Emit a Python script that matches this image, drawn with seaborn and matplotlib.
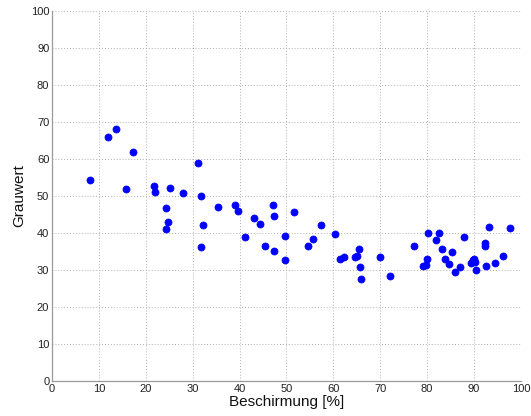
import matplotlib
matplotlib.use("Agg")
import matplotlib.pyplot as plt
import seaborn as sns
import pandas as pd

beschirmung = [8.0, 11.9, 13.6, 17.2, 15.8, 21.8, 21.9, 25.2, 27.9, 24.4, 24.7, 24.2,
               31.1, 31.7, 32.2, 31.8, 35.4, 39.1, 39.7, 41.1, 43.1, 44.4, 45.5, 47.2,
               47.4, 47.4, 49.7, 49.7, 51.6, 54.5, 55.7, 57.3, 60.4, 61.5, 62.3, 64.6,
               65.1, 65.4, 65.6, 65.9, 69.9, 72.1, 77.3, 79.2, 79.8, 79.9, 80.1, 81.9,
               82.6, 83.1, 83.8, 84.7, 85.4, 86.0, 87.1, 87.9, 89.4, 89.7, 89.9, 90.2,
               90.4, 92.3, 92.4, 92.6, 93.1, 94.4, 96.2, 97.6]
grauwert = [54.2, 65.8, 68.1, 61.8, 51.8, 52.7, 51.0, 52.1, 50.7, 46.8, 43.0, 41.2,
            59.0, 49.9, 42.2, 36.2, 47.1, 47.5, 46.0, 38.9, 44.0, 42.5, 36.5, 47.6,
            44.5, 35.2, 39.2, 32.6, 45.7, 36.6, 38.3, 42.2, 39.6, 33.0, 33.6, 33.5,
            33.8, 35.6, 30.9, 27.5, 33.5, 28.4, 36.5, 31.2, 31.3, 33.0, 40.1, 38.1,
            39.9, 35.7, 33.1, 31.5, 34.8, 29.4, 30.7, 38.9, 31.9, 32.6, 32.9, 32.1,
            29.9, 37.2, 36.5, 31.1, 41.7, 31.8, 33.8, 41.3]

df = pd.DataFrame({"Beschirmung": beschirmung, "Grauwert": grauwert})

sns.set_theme(style="white")
plt.rcParams["font.family"] = ["Liberation Sans", "DejaVu Sans"]

fig = plt.figure(figsize=(5.31, 4.16), dpi=100)
ax = fig.add_axes([0.098, 0.084, 0.883, 0.890])

sns.scatterplot(data=df, x="Beschirmung", y="Grauwert", ax=ax,
                color="#0000ff", edgecolor="#0000ff", s=26, linewidth=0.5,
                zorder=3, clip_on=False)

ax.set_xlim(0, 100)
ax.set_ylim(0, 100)
ax.set_xticks(range(0, 101, 10))
ax.set_yticks(range(0, 101, 10))
ax.grid(True, linestyle=(0, (1, 2)), color="#b0b0b0", linewidth=0.7)
ax.set_axisbelow(True)
ax.spines["top"].set_visible(False)
ax.spines["right"].set_visible(False)
for side in ("left", "bottom"):
    ax.spines[side].set_color("#9a9a9a")
    ax.spines[side].set_linewidth(0.9)
ax.tick_params(axis="both", direction="in", length=4, width=0.6, color="#9a9a9a",
               labelsize=8, labelcolor="#222222", pad=2)
ax.set_xlabel("Beschirmung [%]", fontsize=11, color="#111111", labelpad=1)
ax.set_ylabel("Grauwert", fontsize=11, color="#111111", labelpad=3)

fig.savefig("out.png", dpi=100)
